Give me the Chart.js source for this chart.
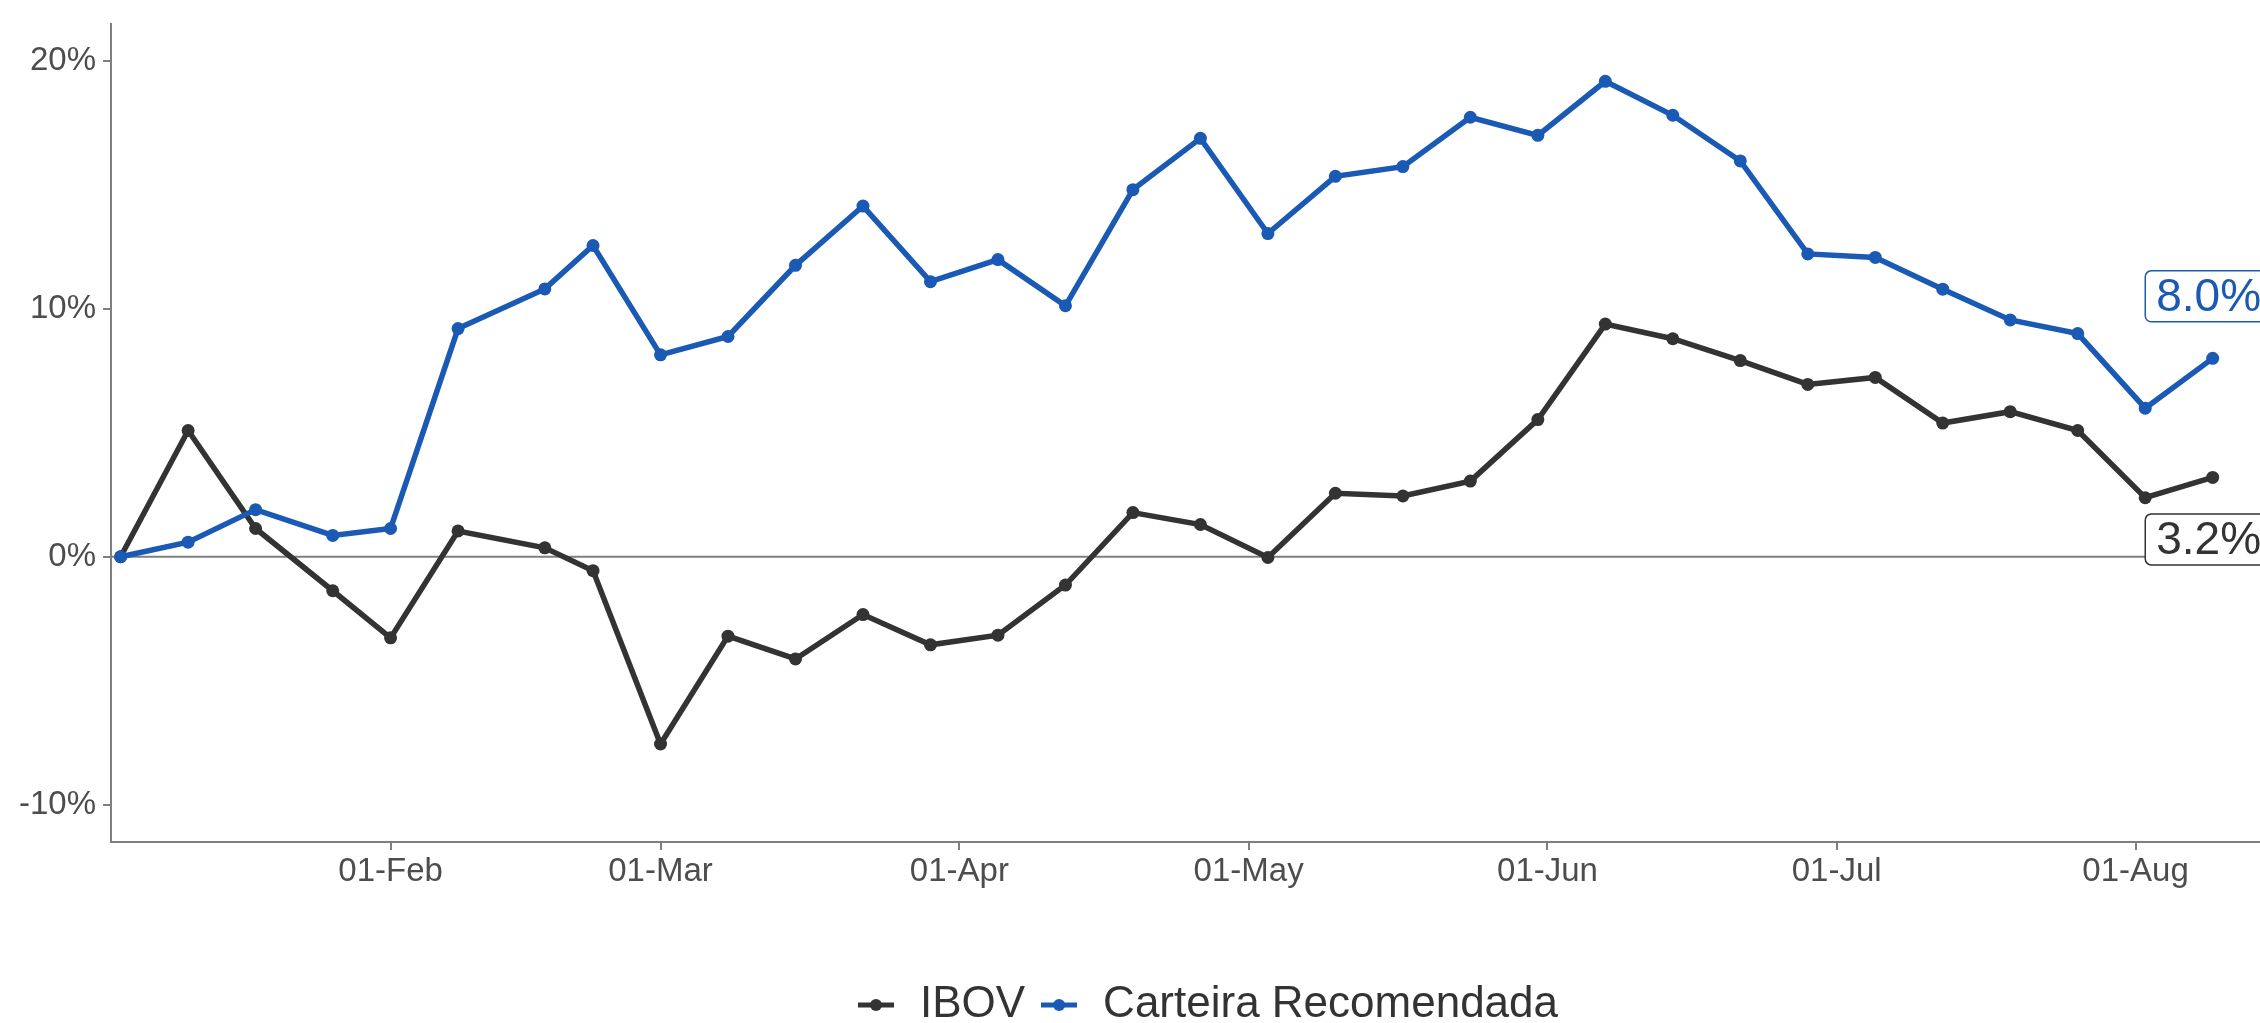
<!DOCTYPE html>
<html>
<head>
<meta charset="utf-8">
<script src="https://cdn.jsdelivr.net/npm/chart.js"></script>
<style>
  body { margin: 0; background: #fff; }
  #wrap { width: 2260px; height: 1023px; overflow: hidden; }
</style>
</head>
<body>
<div id="wrap"><canvas id="myChart" width="2412" height="1037"></canvas></div>
<script>
// weekly dates (2021)
var dates = ['2021-01-04', '2021-01-11', '2021-01-18', '2021-01-26', '2021-02-01', '2021-02-08',
  '2021-02-17', '2021-02-22', '2021-03-01', '2021-03-08', '2021-03-15', '2021-03-22', '2021-03-29',
  '2021-04-05', '2021-04-12', '2021-04-19', '2021-04-26', '2021-05-03', '2021-05-10', '2021-05-17',
  '2021-05-24', '2021-05-31', '2021-06-07', '2021-06-14', '2021-06-21', '2021-06-28', '2021-07-05',
  '2021-07-12', '2021-07-19', '2021-07-26', '2021-08-02', '2021-08-09'];

// cumulative return, %
var ibov = [0, 5.09, 1.14, -1.37, -3.27, 1.04, 0.36, -0.56, -7.55, -3.2, -4.12, -2.33, -3.55,
  -3.16, -1.14, 1.78, 1.3, -0.03, 2.56, 2.45, 3.05, 5.53, 9.38, 8.79, 7.91, 6.95, 7.23,
  5.39, 5.85, 5.09, 2.38, 3.2];
var carteira = [0, 0.59, 1.9, 0.86, 1.14, 9.2, 10.8, 12.55, 8.14, 8.88, 11.75, 14.14, 11.09,
  11.98, 10.12, 14.8, 16.87, 13.03, 15.34, 15.73, 17.72, 16.99, 19.17, 17.8, 15.96, 12.21, 12.07,
  10.79, 9.55, 9.0, 5.99, 8.0];

var seriesNames = ['IBOV', 'Carteira Recomendada'];
var seriesColors = ['#333333', '#1a5ab4'];

var yTicks = [-10, 0, 10, 20];
var xTickDates = ['2021-02-01', '2021-03-01', '2021-04-01', '2021-05-01', '2021-06-01', '2021-07-01', '2021-08-01'];
var xTickLabels = ['01-Feb', '01-Mar', '01-Apr', '01-May', '01-Jun', '01-Jul', '01-Aug'];

function dayOfYear(s) {
  var d = new Date(s + 'T00:00:00Z');
  return (d.getTime() - Date.UTC(d.getUTCFullYear(), 0, 1)) / 86400000 + 1;
}

var xDays = dates.map(dayOfYear);
var xTickDays = xTickDates.map(dayOfYear);

function toPoints(values) {
  return values.map(function(v, i) { return {x: xDays[i], y: v}; });
}

// little line+dot symbol for the legend
function legendIcon(color) {
  var c = document.createElement('canvas');
  c.width = 36; c.height = 14;
  var g = c.getContext('2d');
  g.strokeStyle = color; g.lineWidth = 5;
  g.beginPath(); g.moveTo(0, 7); g.lineTo(36, 7); g.stroke();
  g.fillStyle = color;
  g.beginPath(); g.arc(18, 7, 6, 0, Math.PI * 2); g.fill();
  return c;
}

var zeroLine = {
  id: 'zeroLine',
  beforeDatasetsDraw: function(chart) {
    var ctx = chart.ctx, area = chart.chartArea;
    var y = chart.scales.y.getPixelForValue(0);
    ctx.save();
    ctx.strokeStyle = '#7f7f7f';
    ctx.lineWidth = 2;
    ctx.beginPath(); ctx.moveTo(area.left, y); ctx.lineTo(area.right, y); ctx.stroke();
    ctx.restore();
  }
};

// boxed labels with the final value of each series
var endLabels = {
  id: 'endLabels',
  afterDatasetsDraw: function(chart) {
    var ctx = chart.ctx;
    var offsets = [62, -62];
    ctx.save();
    ctx.font = '46px "Liberation Sans", Arial, sans-serif';
    ctx.textBaseline = 'middle';
    chart.data.datasets.forEach(function(ds, i) {
      var meta = chart.getDatasetMeta(i);
      var pt = meta.data[meta.data.length - 1];
      var last = ds.data[ds.data.length - 1].y;
      var txt = last.toFixed(1) + '%';
      var w = ctx.measureText(txt).width + 22;
      var h = 51;
      var cx = pt.x, cy = pt.y + offsets[i];
      var left = cx - w / 2 - 4;
      ctx.fillStyle = '#ffffff';
      ctx.strokeStyle = ds.borderColor;
      ctx.lineWidth = 1.5;
      ctx.beginPath();
      ctx.roundRect(left, cy - h / 2, w, h, 6);
      ctx.fill(); ctx.stroke();
      ctx.fillStyle = ds.borderColor;
      ctx.fillText(txt, left + 11, cy + 2);
    });
    ctx.restore();
  }
};

var tickFont = {family: '"Liberation Sans", Arial, sans-serif', size: 33, lineHeight: 1};

var ctx = document.getElementById('myChart').getContext('2d');
var chart = new Chart(ctx, {
  type: 'line',
  data: {
    datasets: [ibov, carteira].map(function(vals, i) {
      return {
        label: seriesNames[i],
        data: toPoints(vals),
        borderColor: seriesColors[i],
        backgroundColor: seriesColors[i],
        borderWidth: 5.5,
        pointRadius: 6.5,
        pointBorderWidth: 0,
        pointBackgroundColor: seriesColors[i],
        tension: 0,
        order: 1 - i
      };
    })
  },
  options: {
    responsive: false,
    animation: false,
    layout: {padding: {top: 18, left: 0, right: 0, bottom: 0}},
    scales: {
      x: {
        type: 'linear',
        min: 3,
        max: 241,
        grid: {drawOnChartArea: false, drawTicks: true, tickLength: 8, color: '#7f7f7f', lineWidth: 2},
        border: {display: true, color: '#7f7f7f', width: 2},
        ticks: {
          font: tickFont, color: '#4d4d4d', padding: 5, maxRotation: 0, autoSkip: false,
          callback: function(v) {
            var k = xTickDays.indexOf(v);
            return k >= 0 ? xTickLabels[k] : '';
          }
        },
        afterBuildTicks: function(scale) {
          scale.ticks = xTickDays.map(function(d) { return {value: d}; });
        },
        afterFit: function(scale) { scale.height = 129; }
      },
      y: {
        min: -11.5,
        max: 21.5,
        grid: {drawOnChartArea: false, drawTicks: true, tickLength: 8, color: '#7f7f7f', lineWidth: 2},
        border: {display: true, color: '#7f7f7f', width: 2},
        ticks: {
          font: tickFont, color: '#4d4d4d', padding: 7,
          callback: function(v) { return v + '%'; }
        },
        afterBuildTicks: function(scale) {
          scale.ticks = yTicks.map(function(v) { return {value: v}; });
        },
        afterFit: function(scale) { scale.width = 111; }
      }
    },
    plugins: {
      tooltip: {enabled: false},
      legend: {
        position: 'bottom',
        labels: {
          usePointStyle: true,
          pointStyleWidth: 44,
          padding: 12,
          color: '#333333',
          font: {family: '"Liberation Sans", Arial, sans-serif', size: 44},
          sort: function(a, b) { return a.datasetIndex - b.datasetIndex; },
          generateLabels: function(chart) {
            var items = Chart.defaults.plugins.legend.labels.generateLabels(chart);
            items.forEach(function(it) {
              it.pointStyle = legendIcon(seriesColors[it.datasetIndex]);
            });
            return items;
          }
        }
      }
    }
  },
  plugins: [zeroLine, endLabels]
});
</script>
</body>
</html>
